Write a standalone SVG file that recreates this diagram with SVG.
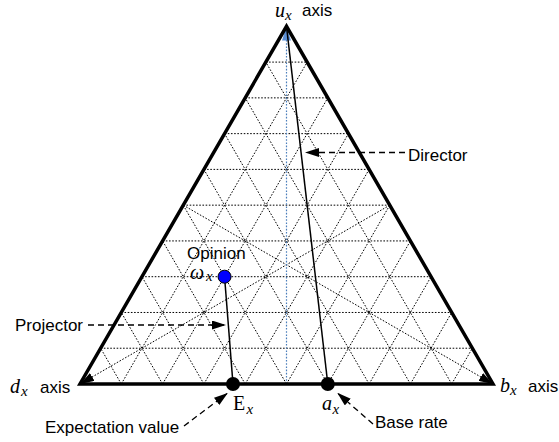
<svg xmlns="http://www.w3.org/2000/svg" width="559" height="442" viewBox="0 0 559 442">
<style>
.grid{stroke:#000;stroke-width:1;stroke-dasharray:1.6 1.6;fill:none}
.tri{stroke:#000;stroke-width:3.5;fill:none;stroke-linejoin:miter}
.solid{stroke:#000;stroke-width:1.5;fill:none}
.dash{stroke:#000;stroke-width:1.3;stroke-dasharray:6 4;fill:none}
.lbl{font-family:"Liberation Sans",Arial,sans-serif;font-size:17px;fill:#000}
.math{font-family:"Liberation Serif","Times New Roman",serif;font-size:20px;fill:#000}
.it{font-style:italic}
.sub{font-family:"Liberation Serif","Times New Roman",serif;font-size:15px;font-style:italic}
</style>
<defs>
<marker id="ah" markerWidth="14" markerHeight="9" refX="13" refY="4.5" orient="auto" markerUnits="userSpaceOnUse">
<path d="M0,0 L14,4.5 L0,9 Z" fill="#000"/>
</marker>
<marker id="ahb" markerWidth="14" markerHeight="9" refX="13" refY="4.5" orient="auto" markerUnits="userSpaceOnUse">
<path d="M0,0 L14,4.5 L0,9 Z" fill="#5b8fd6"/>
</marker>
</defs>
<rect width="559" height="442" fill="#fff"/>
<g id="grid" class="grid">
<line x1="100.65" y1="348.23" x2="472.35" y2="348.23"/>
<line x1="121.3" y1="312.47" x2="451.7" y2="312.47"/>
<line x1="141.95" y1="276.7" x2="431.05" y2="276.7"/>
<line x1="162.6" y1="240.93" x2="410.4" y2="240.93"/>
<line x1="183.25" y1="205.17" x2="389.75" y2="205.17"/>
<line x1="203.9" y1="169.4" x2="369.1" y2="169.4"/>
<line x1="224.55" y1="133.63" x2="348.45" y2="133.63"/>
<line x1="245.2" y1="97.87" x2="327.8" y2="97.87"/>
<line x1="265.85" y1="62.1" x2="307.15" y2="62.1"/>
<line x1="121.3" y1="384" x2="307.15" y2="62.1"/>
<line x1="162.6" y1="384" x2="327.8" y2="97.87"/>
<line x1="203.9" y1="384" x2="348.45" y2="133.63"/>
<line x1="245.2" y1="384" x2="369.1" y2="169.4"/>
<line x1="286.5" y1="384" x2="389.75" y2="205.17"/>
<line x1="327.8" y1="384" x2="410.4" y2="240.93"/>
<line x1="369.1" y1="384" x2="431.05" y2="276.7"/>
<line x1="410.4" y1="384" x2="451.7" y2="312.47"/>
<line x1="451.7" y1="384" x2="472.35" y2="348.23"/>
<line x1="121.3" y1="384" x2="100.65" y2="348.23"/>
<line x1="162.6" y1="384" x2="121.3" y2="312.47"/>
<line x1="203.9" y1="384" x2="141.95" y2="276.7"/>
<line x1="245.2" y1="384" x2="162.6" y2="240.93"/>
<line x1="286.5" y1="384" x2="183.25" y2="205.17"/>
<line x1="327.8" y1="384" x2="203.9" y2="169.4"/>
<line x1="369.1" y1="384" x2="224.55" y2="133.63"/>
<line x1="410.4" y1="384" x2="245.2" y2="97.87"/>
<line x1="451.7" y1="384" x2="265.85" y2="62.1"/>
</g>
<g id="connectors">
<line id="d-axis" class="grid" x1="389.75" y1="205.17" x2="81" y2="383.4" marker-end="url(#ah)"/>
<line id="b-axis" class="grid" x1="183.25" y1="205.17" x2="492" y2="383.4" marker-end="url(#ah)"/>
<line id="u-axis" x1="286.5" y1="384" x2="286.5" y2="27.5" stroke="#4a7ebb" stroke-width="1.2" stroke-dasharray="1.6 1.6" marker-end="url(#ahb)"/>
<line id="director" class="solid" x1="286.5" y1="26.3" x2="327.8" y2="384"/>
<line id="projector" class="solid" x1="224.55" y1="276.7" x2="233" y2="384"/>
<line id="director-call" class="dash" x1="405" y1="152.5" x2="306" y2="152.5" marker-end="url(#ah)"/>
<line id="projector-call" class="dash" x1="88" y1="325" x2="225" y2="325" marker-end="url(#ah)"/>
<line id="expect-call" class="dash" x1="184" y1="426" x2="227" y2="393.5" marker-end="url(#ah)"/>
<line id="base-call" class="dash" x1="373" y1="424" x2="338" y2="393.5" marker-end="url(#ah)"/>
</g>
<g id="triangle">
<path class="tri" d="M80,384 L493,384 L286.5,26.3 Z"/>
</g>
<g id="opinion">
<circle cx="224.55" cy="276.7" r="6.5" fill="#0000ff" stroke="#000" stroke-width="1"/>
<text class="lbl" x="187" y="259">Opinion</text>
<text class="math it" x="190" y="279" font-size="22">ω<tspan class="sub" x="206" y="281">x</tspan></text>
</g>
<g id="expectation">
<circle cx="233" cy="384" r="7" fill="#000"/>
<text class="math" x="233" y="410">E<tspan class="sub" x="246.5" y="414">x</tspan></text>
<text class="lbl" x="45" y="433">Expectation value</text>
</g>
<g id="baserate">
<circle cx="327.8" cy="384" r="7" fill="#000"/>
<text class="math it" x="322" y="410">a<tspan class="sub" x="332.5" y="414">x</tspan></text>
<text class="lbl" x="375" y="428">Base rate</text>
</g>
<g id="director-label"><text class="lbl" x="408" y="161">Director</text></g>
<g id="projector-label"><text class="lbl" x="15" y="331">Projector</text></g>
<g id="u-label">
<text class="math it" x="275" y="17">u<tspan class="sub" x="285" y="20">x</tspan></text>
<text class="lbl" x="302" y="16">axis</text>
</g>
<g id="d-label">
<text class="math it" x="10" y="393">d<tspan class="sub" x="21" y="396">x</tspan></text>
<text class="lbl" x="40" y="393">axis</text>
</g>
<g id="b-label">
<text class="math it" x="500" y="392">b<tspan class="sub" x="510" y="395">x</tspan></text>
<text class="lbl" x="528" y="392">axis</text>
</g>
</svg>
